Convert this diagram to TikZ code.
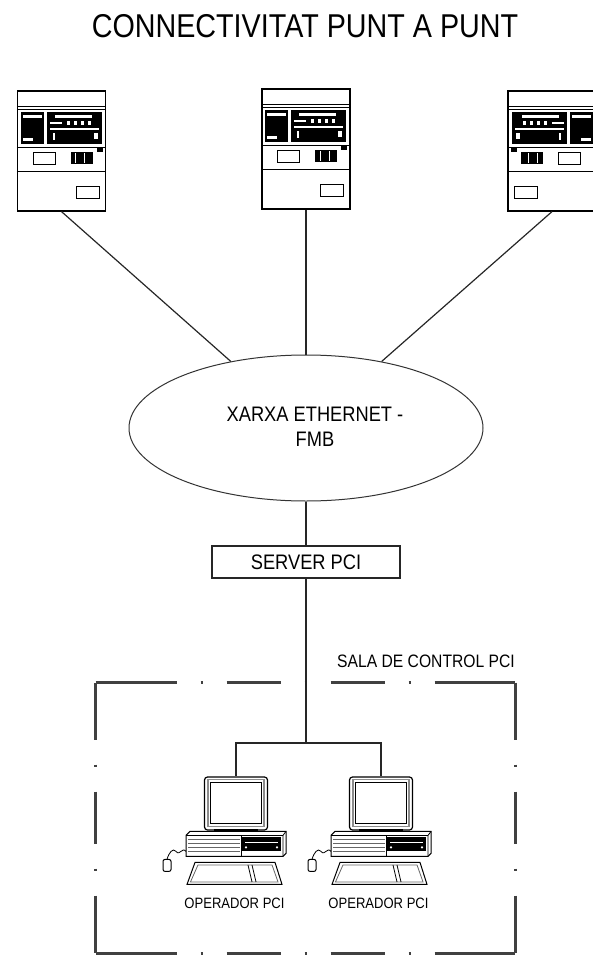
\documentclass[tikz,border=0pt]{standalone}
\usepackage{fontspec}
\setmainfont{Liberation Sans}[FakeStretch=0.87]
\usetikzlibrary{shapes.geometric}

\tikzstyle{termbox}=[shape=rectangle,
                draw=black,
                line width=1.2pt,
                inner sep=0pt,
                minimum width=88pt,
                minimum height=120pt]
\tikzstyle{cloud}=[shape=ellipse,
                draw=black!80,
                line width=1pt,
                inner sep=0pt,
                minimum width=354pt,
                minimum height=146pt]
\tikzstyle{srvbox}=[shape=rectangle,
                draw=black!85,
                line width=1.2pt,
                minimum width=188pt,
                minimum height=32pt,
                font=\fontsize{21}{24}\selectfont]
\tikzstyle{screen}=[shape=rectangle,
                rounded corners=3pt,
                draw=black,
                line width=1.2pt,
                inner sep=0pt,
                minimum width=63pt,
                minimum height=53pt]
\tikzstyle{room}=[shape=rectangle,
                inner sep=0pt,
                minimum width=419pt,
                minimum height=270pt]
\tikzstyle{link}=[draw=black!85, line width=1.2pt]
\tikzstyle{wall}=[draw=black!75, line width=2.3pt]
\tikzstyle{hwall}=[wall, dash pattern=on 81pt off 24pt on 2pt off 24pt on 54pt off 24pt
                   on 2pt off 24pt on 54pt off 24pt on 2pt off 24pt on 81pt off 24pt]
\tikzstyle{vwall}=[wall, dash pattern=on 57pt off 25pt on 2pt off 25pt on 52pt off 25pt
                   on 2pt off 25pt on 57pt off 25pt]
\tikzstyle{ttl}=[font=\fontsize{33}{36}\selectfont]
\tikzstyle{netlbl}=[align=center, font=\fontsize{21}{25}\selectfont]
\tikzstyle{roomlbl}=[font=\fontsize{18}{20}\selectfont]
\tikzstyle{oplbl}=[font=\fontsize{15}{17}\selectfont]

\tikzset{
  % cash-dispenser style terminal, origin at top left corner
  atm/.pic={
    \draw (0,16) -- (88,16);
    \draw (0,19) -- (88,19);
    \draw (0,57) -- (88,57);
    \draw (0,81) -- (88,81);
    % display
    \fill (4,22) rectangle (27,54);
    \fill[white] (6,25) rectangle (25,28);
    \fill[white] (6,48) rectangle (16,51);
    % keypad and slots
    \fill (30,22) rectangle (85,54);
    \fill[white] (38,25) rectangle (75,28);
    \fill[white] (33,32) rectangle (45,34);
    \foreach \k in {50,57,64,71}
      \fill[white] (\k,31) rectangle (\k+3,35);
    \fill[white] (33,38) rectangle (82,40);
    \fill[white] (36,43) rectangle (38,50);
    \fill[white] (77,43) rectangle (81,49);
    \fill (80,57) rectangle (86,62);
    % buttons
    \draw (16,62) rectangle (38,74);
    \fill (54,62) rectangle (76,74);
    \draw[white, line width=1pt] (59,63) -- (59,73) (68,63) -- (68,73);
    % ticket slot
    \draw (59,96) rectangle (82,108);
  },
  % desktop computer, origin at top middle of the monitor
  workstation/.pic={
    \draw[line width=1.5pt, black!45] (-28,3) rectangle (28,50);
    \draw[line width=0.8pt] (-26,6) rectangle (25,47);
    \fill (-22,53) rectangle (22,57);
    % base unit
    \draw[line width=1pt, fill=white] (-50,59) -- (-46,55) -- (50,55) -- (50,77)
         -- (47,80) -- (-50,80) -- cycle;
    \draw (-50,59) -- (47,59) -- (47,80) (47,59) -- (50,55);
    \foreach \s in {63,67,71,75}
      \draw[black!60, line width=1.2pt] (-48,\s) -- (4,\s);
    \draw (5,59) -- (5,80);
    \fill (6,61) rectangle (45,75);
    \draw[white, line width=1pt] (9,66) -- (42,66);
    \fill[white] (10,71) circle (1.2) (41,71) circle (1.2);
    % mouse
    \draw (-50,75) .. controls (-54,70) and (-56,80) .. (-60,75)
          .. controls (-63,71) and (-67,76) .. (-69,83);
    \draw[rounded corners=2pt, line width=1pt] (-73,83) rectangle (-65,95);
    % keyboard
    \draw[line width=1pt] (-41,86) -- (39,86) -- (46,108) -- (-49,108) -- cycle;
    \draw[black!60] (-38,88.5) -- (36,88.5) -- (42,105.5) -- (-45.5,105.5) -- cycle;
    \draw (12,88.5) -- (16,105.5) (16,88.5) -- (20,105.5);
  }
}

\begin{document}
\begin{tikzpicture}[x=1pt,y=-1pt,line width=0.8pt]
\useasboundingbox (0,0) rectangle (592,955);

\node[ttl] (title) at (305,26) {CONNECTIVITAT PUNT A PUNT};

% terminals
\node[termbox] (t1) at (61.5,151) {};
\node[termbox] (t2) at (306,149) {};
\node[termbox] (t3) at (552,151) {};
\pic at (t1.north west) {atm};
\pic at (t2.north west) {atm};
\pic[xscale=-1] at (t3.north east) {atm};

% network and server
\node[cloud] (net) at (306,428) {};
\node[netlbl] (netname) at (315,427) {XARXA ETHERNET -\\FMB};
\node[srvbox] (srv) at (306,562) {SERVER PCI};

% control room
\node[room] (room) at (305.5,818) {};
\node[roomlbl] (roomname) at (426,661) {SALA DE CONTROL PCI};
\draw[hwall] (room.north west) -- (room.north east);
\draw[hwall] (room.south west) -- (room.south east);
\draw[vwall] (room.north west) -- (room.south west);
\draw[vwall] (room.north east) -- (room.south east);

% operator stations
\node[screen] (pc1) at (236,803.5) {};
\node[screen] (pc2) at (381,803.5) {};
\pic at (pc1.north) {workstation};
\pic at (pc2.north) {workstation};
\node[oplbl] (op1) at (234.5,903) {OPERADOR PCI};
\node[oplbl] (op2) at (378.5,903) {OPERADOR PCI};
\coordinate (hub) at (306,743);

% paths
\draw[link] (t1.south) -- (net);
\draw[link] (t2.south) -- (net);
\draw[link] (t3.south) -- (net);
\draw[link] (net) -- (srv);
\draw[link] (srv) -- (hub);
\draw[link] (hub) -| (pc1.north);
\draw[link] (hub) -| (pc2.north);

\end{tikzpicture}
\end{document}
